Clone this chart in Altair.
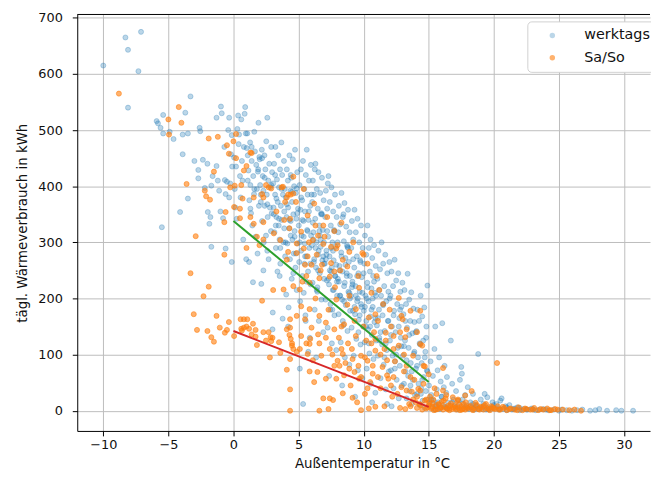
import altair as alt
import pandas as pd

# ---------------- werktags (weekday) points: temperature [°C], daily heat [kWh]
wt_t_neg = [-10.0,-8.3,-8.1,-7.1,-7.3,-8.1,-5.9,-5.8,-5.6,-5.4,
            -5.4,-5.5,-4.9,-4.6,-3.7,-3.9,-3.5,-3.3,-3.9,-4.1,
            -3.5,-3.0,-2.7,-2.7,-2.6,-2.55,-2.35,-2.0,-1.97,-1.85,
            -1.77,-1.7,-1.7,-1.3,-1.3,-1.2,-1.1,-0.96,-0.9,-0.66,
            -0.6,-0.6,-0.33,-0.33,-0.2,-0.13,-0.13,-0.1,-2.2,-1.6,
            -0.5,-0.8,-0.4,-0.7,-0.25,-1.0]
wt_e_neg = [615,665,643,675,605,540,516,512,504,527,
            494,327,497,484,531,492,494,560,457,354,
            378,445,429,414,504,498,447,440,354,333,
            345,401,292,522,436,410,392,542,530,411,
            386,289,522,380,457,491,265,435,397,418,
            408,343,500,470,405,355]

wt_t_0 = [0.05,0.1,0.15,0.2,0.25,0.3,0.36,0.4,0.43,0.5, 0.55,0.6,0.65,0.7,0.75,0.8,0.86,0.9,0.95,0.98]
wt_e_0 = [451,395,362,435,342,502,526,475,492,418, 380,519,445,410,305,470,529,541,494,270]

wt_t_1 = [1.02,1.06,1.1,1.15,1.2,1.22,1.28,1.3,1.35,1.4, 1.45,1.5,1.52,1.58,1.6,1.65,1.7,1.75,1.8,1.85, 1.88,1.92,1.96,1.99]
wt_e_1 = [468,494,455,428,265,375,478,402,352,445, 330,229,418,386,497,462,310,438,395,280, 426,513,365,452]

wt_t_2 = [2.02,2.05,2.1,2.14,2.18,2.2,2.25,2.3,2.33,2.38, 2.4,2.45,2.5,2.52,2.56,2.6,2.63,2.68,2.7,2.75, 2.8,2.84,2.88,2.9,2.94,2.97,2.3,2.6]
wt_e_2 = [448,402,372,226,465,338,418,392,300,455, 365,430,312,480,385,522,345,410,270,440, 362,398,320,470,352,425,250,285]

wt_t_3 = [3.02,3.05,3.08,3.12,3.15,3.2,3.22,3.26,3.3,3.34, 3.38,3.4,3.44,3.48,3.5,3.54,3.58,3.6,3.64,3.68, 3.7,3.74,3.78,3.8,3.84,3.88,3.9,3.94,3.97,3.0, 3.25,3.55]
wt_e_3 = [175,405,362,440,318,385,470,290,345,412, 248,372,455,330,398,305,430,262,365,478, 340,420,164,385,300,445,355,395,275,145, 330,240]

wt_t_4 = [4.02,4.05,4.08,4.1,4.14,4.18,4.2,4.24,4.28,4.3, 4.34,4.38,4.4,4.44,4.48,4.5,4.53,4.56,4.6,4.63, 4.66,4.7,4.73,4.76,4.8,4.83,4.86,4.9,4.93,4.96, 4.2,4.4,4.6,4.85]
wt_e_4 = [380,207,345,430,298,410,362,184,325,455, 270,392,338,415,235,372,305,448,350,280, 400,320,465,255,388,342,215,425,298,360, 150,312,245,396]

wt_t_5 = [5.02,5.05,5.08,5.12,5.15,5.18,5.2,5.24,5.28,5.3, 5.34,5.38,5.4,5.44,5.48,5.5,5.53,5.56,5.6,5.63, 5.66,5.7,5.73,5.76,5.8,5.83,5.86,5.9,5.93,5.96, 5.1,5.35,5.55,5.75,5.95,5.45]
wt_e_5 = [330,265,402,195,358,430,285,312,375,240, 445,338,210,395,298,355,170,420,275,465, 322,385,248,340,410,290,130,365,225,312, 75,12,160,105,438,262]

wt_t_6 = [6.02,6.05,6.08,6.1,6.14,6.18,6.2,6.24,6.28,6.3, 6.34,6.38,6.4,6.44,6.48,6.5,6.53,6.56,6.6,6.63, 6.66,6.7,6.73,6.76,6.8,6.83,6.86,6.9,6.93,6.96, 6.15,6.35,6.55,6.75,6.95,6.25,6.45,6.65]
wt_e_6 = [295,372,228,410,318,265,385,180,342,440, 255,300,395,212,360,278,425,160,330,245, 388,292,350,198,415,268,322,140,375,235, 305,95,285,352,262,430,220,312]

wt_t_7 = [7.02,7.05,7.08,7.1,7.14,7.18,7.2,7.24,7.28,7.3, 7.34,7.38,7.4,7.44,7.48,7.5,7.53,7.56,7.6,7.63, 7.66,7.7,7.73,7.76,7.8,7.83,7.86,7.9,7.93,7.96, 7.15,7.35,7.55,7.75,7.95,7.25,7.45,7.65]
wt_e_7 = [262,345,198,392,285,232,360,148,310,418, 225,275,372,180,330,248,398,120,300,215, 355,268,322,170,385,240,292,108,345,205, 278,62,255,320,230,405,190,285]

wt_t_8 = [8.02,8.05,8.08,8.1,8.14,8.18,8.2,8.24,8.28,8.3, 8.34,8.38,8.4,8.44,8.48,8.5,8.53,8.56,8.6,8.63, 8.66,8.7,8.73,8.76,8.8,8.83,8.86,8.9,8.93,8.96, 8.15,8.35,8.55,8.75,8.95,8.45]
wt_e_8 = [235,318,172,365,258,205,332,122,282,388, 198,248,345,152,302,222,370,95,272,188, 328,240,295,142,358,212,265,82,318,178, 250,45,228,292,200,350]

wt_t_9 = [9.02,9.05,9.08,9.1,9.14,9.18,9.2,9.24,9.28,9.3, 9.34,9.38,9.4,9.44,9.48,9.5,9.53,9.56,9.6,9.63, 9.66,9.7,9.73,9.76,9.8,9.83,9.86,9.9,9.93,9.96, 9.15,9.35,9.55,9.75]
wt_e_9 = [205,290,148,338,230,178,305,98,255,358, 172,222,318,128,275,195,342,72,245,162, 300,212,268,118,330,185,238,58,290,150, 225,25,200,265]

wt_t_10 = [10.02,10.05,10.08,10.1,10.14,10.18,10.2,10.24,10.28,10.3, 10.34,10.38,10.4,10.44,10.48,10.5,10.53,10.56,10.6,10.63, 10.66,10.7,10.73,10.76,10.8,10.83,10.86,10.9,10.93,10.96, 10.25,10.65]
wt_e_10 = [178,262,122,312,205,150,278,75,228,330, 145,195,290,102,248,168,305,48,218,135, 272,185,240,92,295,158,210,32,258,125, 200,15]

wt_t_11 = [11.02,11.06,11.1,11.14,11.18,11.22,11.26,11.3,11.34,11.38, 11.42,11.46,11.5,11.54,11.58,11.62,11.66,11.7,11.74,11.78, 11.82,11.86,11.9,11.94,11.98,11.2,11.5,11.8]
wt_e_11 = [152,235,98,285,180,125,252,58,205,300, 118,170,262,82,222,142,278,38,195,108, 245,160,212,70,265,130,188,12]

wt_t_12 = [12.02,12.06,12.1,12.14,12.18,12.22,12.26,12.3,12.34,12.38, 12.42,12.46,12.5,12.54,12.58,12.62,12.66,12.7,12.74,12.78, 12.82,12.86,12.9,12.94,12.98,12.15]
wt_e_12 = [125,205,72,248,150,98,222,40,178,269, 88,140,232,55,190,112,245,22,165,80, 212,130,185,45,228,8]

wt_t_13 = [13.02,13.06,13.1,13.14,13.18,13.22,13.26,13.3,13.34,13.38, 13.42,13.46,13.5,13.54,13.58,13.62,13.66,13.7,13.74,13.78, 13.82,13.86,13.9,13.95]
wt_e_13 = [98,172,48,215,125,70,190,22,148,244, 62,112,198,35,160,85,211,12,138,55, 182,102,158,28]

wt_t_14 = [14.02,14.06,14.1,14.14,14.18,14.22,14.26,14.3,14.34,14.38, 14.42,14.46,14.5,14.54,14.58,14.62,14.66,14.7,14.74,14.78, 14.82,14.86,14.9,14.95]
wt_e_14 = [75,142,30,180,95,48,160,10,118,205, 40,85,168,18,125,60,184,5,105,35, 150,72,223,20]

wt_t_15 = [15.02,15.08,15.14,15.2,15.26,15.32,15.38,15.44,15.5,15.56, 15.62,15.68,15.74,15.8,15.86,15.92,15.98,16.04,16.1,16.16, 16.22,16.28,16.34,16.4,16.5,16.6,16.7,16.8,16.9,15.5]
wt_e_15 = [45,12,88,28,5,62,18,110,150,8, 38,72,15,95,3,52,25,156,10,42, 80,6,32,60,14,4,125,48,20,2]

wt_t_17 = [17.0,17.1,17.2,17.3,17.4,17.55,17.6,17.7,17.8,17.9, 18.0,18.1,18.2,18.3,18.4,18.5,18.6,18.8,18.9,19.0, 19.1,19.2,19.4,19.5,19.6,19.8,19.9,17.5,18.7,19.3]
wt_e_17 = [8,35,2,18,55,66,12,4,28,9, 42,3,15,6,30,2,10,101,5,20, 3,12,2,24,6,4,15,78,8,30]

wt_t_20 = [20.0,20.2,20.4,20.5,20.7,20.9,21.0,21.2,21.4,21.6, 21.8,22.0,22.3,22.6,22.9,23.2,23.5,23.8,24.2,24.6, 25.0,25.2,25.6,26.0,26.4,26.8,27.4,27.8,28.1,28.7, 29.4,29.8,30.7,20.6]
wt_e_20 = [5,12,2,18,3,8,1,10,2,4, 6,1,3,2,4,1,2,3,1,2, 0,2,1,0,1,2,0,1,3,0, 1,0,0,22]

# extra weekday points in the dense band
wt_t_fill = [1.1,1.3,1.6,1.9,2.1,2.4,2.6,2.9,1.4,2.2,
             3.1,3.3,3.5,3.7,3.9,4.1,4.3,4.5,4.7,4.9,3.2,3.6,4.0,4.4,4.8,
             5.1,5.3,5.5,5.7,5.9,6.1,6.3,6.5,6.7,6.9,5.2,5.6,6.0,6.4,6.8,5.4,6.2,6.6,5.8,6.95,
             7.1,7.3,7.5,7.7,7.9,8.1,8.3,8.5,8.7,8.9,7.2,7.6,8.0,8.4,8.8,7.4,7.8,8.2,8.6,8.95,
             9.1,9.3,9.5,9.7,9.9,10.1,10.3,10.5,10.7,10.9,9.2,9.6,10.0,10.4,10.8,9.4,9.8,10.2,10.6,10.95,
             11.1,11.3,11.5,11.7,11.9,12.1,12.3,12.5,12.7,12.9,11.2,11.6,12.0,12.4,12.8,
             13.1,13.3,13.5,13.7,13.9,14.1,14.3,14.5,14.7,14.9,13.2,13.6,14.0,14.4,14.8,
             15.2,15.6,16.0,16.4,16.8,17.2,17.6,18.0,18.4,18.8,19.2,19.6,20.0,20.4,21.0,21.5,22.0,22.5,23.0,24.0]
wt_e_fill = [410,360,395,430,385,415,368,402,470,450,
             350,378,342,395,325,368,340,390,310,352,420,290,300,420,280,
             300,340,275,320,262,335,290,250,305,275,380,230,385,215,350,310,270,320,355,300,
             270,235,290,215,260,230,275,195,245,210,320,180,300,160,290,250,240,205,260,240,
             220,185,240,170,210,185,220,150,200,165,270,140,245,120,230,205,190,160,180,205,
             165,140,190,120,160,135,170,100,150,115,215,95,200,75,180,
             115,90,135,70,105,80,120,55,95,70,160,45,140,30,130,
             20,10,25,5,15,8,20,5,12,3,8,2,10,4,6,3,5,2,3,2]

# ---------------- Sa/So (weekend) points
we_t_neg = [-8.8,-4.2,-5.0,-4.0,-4.95,-1.9,-1.2,-0.5,-0.35,-1.5,
            -3.6,-2.2,-2.1,-1.8,-0.25,-0.6,-0.7,-2.9,-3.3,-1.9,
            -2.3,-3.05,-1.3,-2.8,-2.0,-1.7,-1.5,-1.05,-0.66,-0.5,
            -0.35,-0.7]
we_e_neg = [565,541,519,513,492,485,488,473,458,426,
            404,392,382,376,398,354,336,311,245,221,
            204,172,169,144,142,131,123,148,139,144,
            158,278]

we_t_up = [0.0,0.2,0.2,0.8,1.0,1.3,1.4,0.6,0.1,2.7,
           2.5,2.9,3.7,4.6,4.4,2.2,2.3,1.56,0.7,0.05,
           0.5,1.3,0.5,1.56,2.3,1.8,2.3,3.1,3.6,4.1,
           4.8,3.3,3.9,4.3,2.0,1.0]
we_e_up = [480,493,450,428,436,460,459,402,401,398,
           402,396,398,387,385,386,380,380,378,363,
           360,345,343,333,336,310,305,316,304,380,
           372,355,340,325,295,290]

we_t_low = [0.05,0.55,0.8,1.06,0.6,0.8,1.2,1.7,0.65,1.4,
            1.7,1.8,2.3,2.7,2.85,3.0,2.9,2.5,3.5,4.1,
            4.3,4.5,4.6,4.4,2.8,3.6,4.35,4.1,4.35,4.35,
            3.05,2.2,1.0,1.5]
we_e_low = [133,163,163,163,146,148,146,144,143,136,
            132,117,140,140,131,130,124,125,122,145,
            135,120,110,128,95,103,92,73,38,0,
            215,196,150,155]

we_t_mid = [4.6,3.8,4.2,5.4,6.2,3.97,5.7,4.35,5.2,6.5,
            7.75,8.0,7.5,6.9,6.1,5.4,4.86,4.2,5.7,6.4,
            8.9,10.0,6.0,4.1,4.86,6.3,7.0,7.9,8.4,7.5,
            6.7,5.6,9.65,9.9,5.85,6.6,7.4,7.75,8.75,5.1,
            5.2,4.35,3.85,4.6,7.9,4.86,5.5,5.85,6.6,7.1,
            7.75,8.5,8.75,8.9,9.4,9.4,10.2,10.9,11.7,12.3,
            12.7,13.2,13.3,13.0,13.6,14.5,12.7,12.9,14.35,4.35,
            4.5,5.1,5.2,6.0,5.9,6.5,5.7,6.75,7.4,8.0,
            8.4,9.15,9.8,10.3,10.7,5.85,6.2,7.4,9.15,9.8,
            10.9,8.4,7.9,7.1,7.75,8.9,8.5,9.65,9.0,10.5,
            11.45,11.9,13.3,6.6,7.3,6.9,6.45,5.85,4.86,10.3,
            9.2,11.2,11.5,12.1,14.1,14.7,13.8,11.0,10.9,10.4,
            11.7,12.3,10.0,10.9,8.3,8.15,9.3,10.7,11.8,12.9,
            13.7,14.35,9.5,10.4,7.65,14.35,15.0,16.1,20.25,17.8,
            16.1,14.2,7.2,8.3,9.6,10.6,12.0,11.1,12.4,13.1,
            13.9,14.6,12.2,11.3,10.1,13.5,11.6,12.8,14.8,14.0]
we_e_mid = [417,399,385,395,369,372,348,342,319,312,
            320,295,292,297,304,289,298,283,275,278,
            283,278,260,269,281,330,310,289,269,263,
            250,240,219,281,228,236,239,248,257,216,
            186,163,216,222,198,169,163,181,169,157,
            145,154,189,205,181,133,125,128,125,133,
            116,131,145,163,178,116,201,169,178,148,
            116,110,133,148,128,136,101,98,110,89,
            101,92,98,89,80,70,51,22,23,1,
            7,31,57,57,80,75,63,57,45,51,
            78,57,36,0,3,22,69,119,105,262,
            300,215,190,150,140,79,98,240,172,166,
            139,110,150,107,110,80,69,66,63,42,
            34,36,15,4,19,119,65,76,85,27,
            36,39,345,335,240,210,180,160,88,70,
            55,48,25,40,30,12,8,5,20,15]

we_t_fill = [5.3,5.8,6.3,6.8,7.3,7.8,8.3,8.8,9.3,9.8,
             10.3,10.8,11.3,11.8,12.3,12.8,13.3,13.8,5.6,6.1,
             6.6,7.1,7.6,8.1,8.6,9.1,9.6,10.1,10.6,11.1,
             11.6,12.1,12.6,13.1,13.6,14.1,14.6,5.5,6.9,8.2]
we_e_fill = [230,300,200,260,180,220,150,120,160,60,
             40,140,100,90,60,140,80,20,120,90,
             120,130,100,130,85,110,80,95,120,60,
             110,45,30,100,60,25,80,260,330,250]

we_t_zero = [13.2,13.6,14.1,14.3,14.5,14.7,14.9,15.0,15.1,15.2,
             15.3,15.4,15.5,15.6,15.7,15.8,15.9,16.0,16.1,16.2,
             16.3,16.4,16.5,16.6,16.7,16.8,16.9,17.0,17.1,17.2,
             17.3,17.4,17.5,17.6,17.7,17.8,17.9,18.0,18.2,18.4,
             18.5,18.6,18.8,19.0,19.2,19.3,19.5,19.7,19.9,20.1,
             20.3,20.5,20.8,21.0,21.3,21.6,21.9,22.2,22.5,22.8,
             23.1,23.4,23.8,24.1,24.4,24.7,25.3,25.8,26.2,26.7,
             15.45,16.35,17.25,18.3,
             14.4,14.8,15.05,15.25,15.35,15.55,15.75,15.95,16.15,16.45,
             16.65,16.85,17.05,17.35,17.55,17.85,18.1,18.35,18.7,18.9,
             19.1,19.4,19.6,19.8,20.0,20.4,20.7,21.2,21.8,22.4,
             23.0,23.6,24.3,24.9]
we_e_zero = [3,8,5,12,2,18,6,10,25,4,
             14,1,8,30,3,11,5,16,2,7,
             22,4,9,1,13,3,6,10,2,18,
             5,1,8,3,12,2,6,4,9,1,
             5,14,3,7,2,10,4,1,6,3,
             8,2,5,1,4,2,6,1,3,2,
             5,1,2,4,1,3,2,1,2,0,
             40,28,20,35,
             10,4,15,7,20,2,12,6,18,3,
             9,24,5,11,2,15,7,3,10,2,
             6,12,3,8,4,2,7,3,1,4,
             2,3,1,2]

# ---------------- fitted lines
fit_t = [0, 15]
fit_werktags = [338, 51]
fit_wochenende = [142, 7]

series_names = ["werktags", "Sa/So"]
series_colors = ["#1f77b4", "#ff7f0e"]
series_opacity = [0.3, 0.6]

wt_t = (wt_t_neg + wt_t_0 + wt_t_1 + wt_t_2 + wt_t_3 + wt_t_4 + wt_t_5 + wt_t_6 + wt_t_7
        + wt_t_8 + wt_t_9 + wt_t_10 + wt_t_11 + wt_t_12 + wt_t_13 + wt_t_14 + wt_t_15
        + wt_t_17 + wt_t_20 + wt_t_fill)
wt_e = (wt_e_neg + wt_e_0 + wt_e_1 + wt_e_2 + wt_e_3 + wt_e_4 + wt_e_5 + wt_e_6 + wt_e_7
        + wt_e_8 + wt_e_9 + wt_e_10 + wt_e_11 + wt_e_12 + wt_e_13 + wt_e_14 + wt_e_15
        + wt_e_17 + wt_e_20 + wt_e_fill)
we_t = we_t_neg + we_t_up + we_t_low + we_t_mid + we_t_fill + we_t_zero
we_e = we_e_neg + we_e_up + we_e_low + we_e_mid + we_e_fill + we_e_zero
assert len(wt_t) == len(wt_e), (len(wt_t), len(wt_e))
assert len(we_t) == len(we_e), (len(we_t), len(we_e))

df_wt = pd.DataFrame({"t": wt_t, "e": wt_e, "Serie": series_names[0]})
df_we = pd.DataFrame({"t": we_t, "e": we_e, "Serie": series_names[1]})

fit_g = pd.DataFrame({"t": fit_t, "e": fit_werktags})
fit_r = pd.DataFrame({"t": fit_t, "e": fit_wochenende})

W, H = 579, 421
FONT = "DejaVu Sans"
PT = 26

xscale = alt.Scale(domain=[-12, 32], nice=False, zero=False)
yscale = alt.Scale(domain=[-36, 706], nice=False, zero=False)

xax = alt.Axis(values=[-10, -5, 0, 5, 10, 15, 20, 25, 30], title="Außentemperatur in °C",
               titleX=298, titlePadding=5, labelPadding=3)
yax = alt.Axis(values=[0, 100, 200, 300, 400, 500, 600, 700], title="tägl. Wärmeverbrauch in kWh",
               titlePadding=8, labelPadding=10)

color_enc = alt.Color("Serie:N", scale=alt.Scale(domain=series_names, range=series_colors),
                      sort=series_names, legend=alt.Legend(title=None))
op_enc = alt.Opacity("Serie:N", scale=alt.Scale(domain=series_names, range=series_opacity),
                     sort=series_names, legend=alt.Legend(title=None))


def fill_layer(df, with_axes):
    return alt.Chart(df).mark_circle(size=PT).encode(
        x=alt.X("t:Q", scale=xscale, axis=xax if with_axes else alt.Undefined),
        y=alt.Y("e:Q", scale=yscale, axis=yax if with_axes else alt.Undefined),
        color=color_enc, opacity=op_enc)


def ring_layer(df, col, op):
    return alt.Chart(df).mark_point(shape="circle", filled=False, size=PT, strokeWidth=1,
                                    color=col, opacity=op).encode(
        x=alt.X("t:Q", scale=xscale), y=alt.Y("e:Q", scale=yscale))


line_g = alt.Chart(fit_g).mark_line(color="#2ca02c", strokeWidth=2).encode(
    x=alt.X("t:Q", scale=xscale), y=alt.Y("e:Q", scale=yscale))
line_r = alt.Chart(fit_r).mark_line(color="#d62728", strokeWidth=2).encode(
    x=alt.X("t:Q", scale=xscale), y=alt.Y("e:Q", scale=yscale))

top_spine = alt.Chart(pd.DataFrame({"a": [0]})).mark_rule(color="black", strokeWidth=1).encode(
    x=alt.value(0), x2=alt.value(W), y=alt.value(0))

chart = alt.layer(
    fill_layer(df_wt, True), ring_layer(df_wt, series_colors[0], series_opacity[0]),
    fill_layer(df_we, False), ring_layer(df_we, series_colors[1], series_opacity[1]),
    line_g, line_r, top_spine,
).properties(
    width=W, height=H,
    autosize=alt.AutoSizeParams(type="none"),
    padding={"left": 70, "top": 4, "right": 1, "bottom": 42},
).configure_view(stroke=None).configure_axis(
    labelFont=FONT, titleFont=FONT, labelFontSize=13, titleFontSize=13.5,
    labelColor="#111", titleColor="#111", titleFontWeight="normal",
    gridColor="#bdbdbd", gridWidth=1, domainColor="black", domainWidth=1,
    tickColor="black", tickSize=5, tickWidth=1,
).configure_legend(
    orient="none", legendX=455, legendY=7,
    fillColor="white", strokeColor="#d0d0d0", cornerRadius=4, padding=7,
    symbolOffset=11, labelOffset=25, symbolSize=30, symbolType="circle",
    labelFont=FONT, labelFontSize=14.5, labelColor="#111", rowPadding=7.5,
)

chart.save("out.html", embed_options={"renderer": "svg", "actions": False})
